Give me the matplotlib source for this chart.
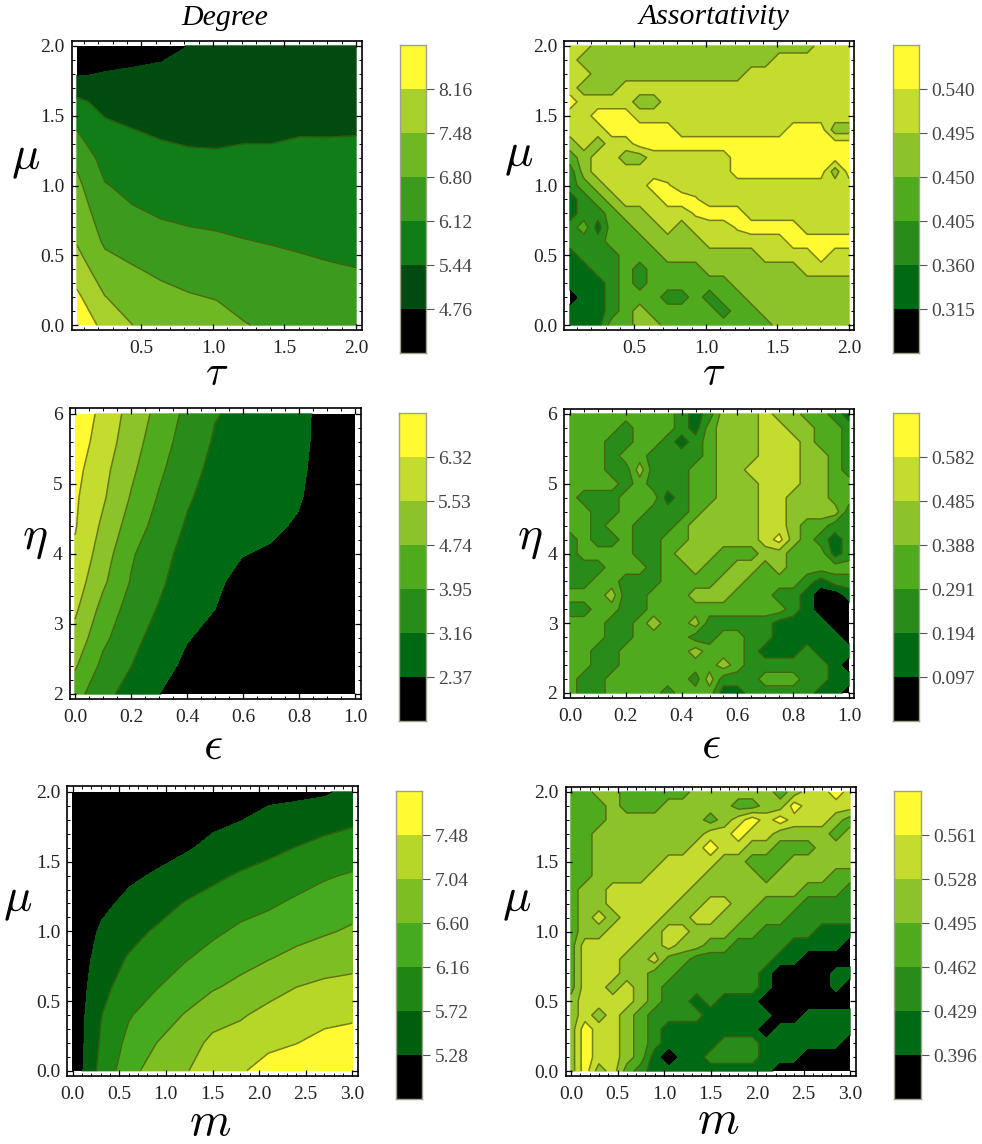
import numpy as np
import matplotlib
matplotlib.use("Agg")
import matplotlib.pyplot as plt
from matplotlib.ticker import MultipleLocator, FormatStrFormatter

plt.rcParams['font.family'] = ['Liberation Serif', 'DejaVu Serif']
plt.rcParams['mathtext.fontset'] = 'cm'

W, H = 982, 1144

# panel values, rows run from the top of each plot downwards
degree_tau = [
    [4.30, 4.40, 4.50, 4.60, 4.78, 4.80, 4.85, 4.90, 4.95, 4.95, 4.95],
    [4.72, 4.81, 4.86, 4.90, 4.95, 4.98, 5.00, 5.00, 5.05, 5.08, 5.08],
    [5.58, 5.24, 5.15, 5.12, 5.13, 5.14, 5.17, 5.17, 5.23, 5.25, 5.25],
    [6.11, 5.59, 5.45, 5.35, 5.31, 5.31, 5.34, 5.35, 5.40, 5.40, 5.41],
    [6.65, 5.85, 5.70, 5.60, 5.52, 5.50, 5.54, 5.53, 5.56, 5.55, 5.55],
    [6.96, 6.16, 5.94, 5.83, 5.76, 5.74, 5.73, 5.72, 5.72, 5.70, 5.68],
    [7.19, 6.44, 6.20, 6.07, 6.00, 5.95, 5.93, 5.91, 5.89, 5.85, 5.82],
    [7.42, 6.70, 6.53, 6.33, 6.26, 6.22, 6.14, 6.09, 6.05, 6.00, 5.97],
    [7.83, 7.07, 6.85, 6.68, 6.56, 6.50, 6.36, 6.30, 6.22, 6.17, 6.13],
    [8.29, 7.50, 7.16, 6.98, 6.85, 6.77, 6.60, 6.50, 6.40, 6.33, 6.28],
    [8.80, 7.90, 7.48, 7.25, 7.15, 7.05, 6.83, 6.70, 6.60, 6.50, 6.42],
]
degree_eps = [
    [6.90, 6.09, 5.25, 4.50, 3.75, 3.20, 3.00, 2.90, 2.70, 2.00, 1.80],
    [6.74, 5.96, 5.10, 4.30, 3.60, 3.08, 2.90, 2.80, 2.65, 2.00, 1.80],
    [6.56, 5.76, 4.90, 4.10, 3.42, 2.96, 2.80, 2.72, 2.55, 2.00, 1.80],
    [6.43, 5.63, 4.68, 3.88, 3.25, 2.84, 2.70, 2.60, 2.45, 2.00, 1.80],
    [6.38, 5.38, 4.40, 3.65, 3.08, 2.72, 2.60, 2.50, 2.30, 1.90, 1.70],
    [6.20, 5.14, 4.05, 3.42, 2.92, 2.60, 2.40, 2.30, 1.90, 1.80, 1.70],
    [5.95, 4.88, 3.90, 3.30, 2.75, 2.49, 2.20, 2.00, 1.80, 1.70, 1.70],
    [5.66, 4.47, 3.62, 3.10, 2.58, 2.38, 2.10, 1.90, 1.70, 1.70, 1.60],
    [5.27, 4.13, 3.41, 2.85, 2.42, 2.20, 2.00, 1.80, 1.60, 1.60, 1.60],
    [4.83, 3.75, 3.17, 2.63, 2.25, 2.05, 1.90, 1.70, 1.60, 1.60, 1.60],
    [4.27, 3.37, 2.90, 2.39, 2.10, 1.90, 1.80, 1.70, 1.50, 1.50, 1.60],
]
degree_m = [
    [5.00, 4.60, 4.85, 4.90, 5.00, 5.10, 5.15, 5.20, 5.20, 5.24, 5.40],
    [5.00, 4.75, 4.95, 5.00, 5.10, 5.20, 5.28, 5.38, 5.47, 5.55, 5.64],
    [5.00, 4.90, 5.10, 5.15, 5.24, 5.39, 5.52, 5.62, 5.73, 5.85, 5.93],
    [5.00, 5.05, 5.22, 5.33, 5.49, 5.64, 5.76, 5.86, 5.99, 6.12, 6.20],
    [5.00, 5.20, 5.38, 5.55, 5.74, 5.86, 6.00, 6.10, 6.23, 6.33, 6.43],
    [5.00, 5.34, 5.58, 5.77, 5.93, 6.08, 6.24, 6.34, 6.46, 6.55, 6.66],
    [5.00, 5.46, 5.76, 5.96, 6.13, 6.32, 6.47, 6.59, 6.72, 6.86, 6.91],
    [5.00, 5.58, 5.93, 6.14, 6.37, 6.56, 6.70, 6.90, 7.04, 7.12, 7.16],
    [5.00, 5.70, 6.12, 6.38, 6.62, 6.85, 7.00, 7.15, 7.25, 7.36, 7.41],
    [5.00, 5.76, 6.28, 6.60, 6.80, 7.15, 7.20, 7.38, 7.47, 7.60, 7.65],
    [5.00, 5.85, 6.42, 6.85, 7.00, 7.25, 7.43, 7.65, 7.75, 7.90, 7.90],
]
assort_tau = [
    [.52, .52, .47, .47, .47, .47, .47, .47, .47, .47, .47, .47, .47, .47, .47, .47, .47, .47, .52, .52, .52],
    [.52, .47, .47, .47, .47, .47, .47, .47, .47, .47, .47, .47, .47, .47, .47, .52, .52, .52, .52, .52, .52],
    [.52, .52, .47, .47, .47, .47, .47, .47, .47, .47, .47, .47, .47, .52, .52, .52, .52, .52, .52, .52, .52],
    [.52, .47, .47, .47, .52, .52, .52, .52, .52, .52, .52, .52, .52, .52, .52, .52, .52, .52, .52, .52, .52],
    [.56, .52, .52, .52, .52, .47, .47, .52, .52, .52, .52, .52, .52, .52, .52, .52, .52, .52, .52, .52, .52],
    [.52, .52, .56, .56, .56, .52, .52, .52, .52, .52, .52, .52, .52, .52, .52, .52, .52, .52, .52, .52, .52],
    [.52, .52, .52, .56, .56, .56, .56, .56, .52, .52, .52, .52, .52, .52, .52, .52, .56, .56, .56, .47, .47],
    [.47, .52, .47, .52, .52, .56, .56, .56, .56, .56, .56, .56, .56, .56, .56, .56, .56, .56, .56, .56, .56],
    [.43, .47, .52, .52, .47, .47, .52, .52, .52, .52, .52, .52, .56, .56, .56, .56, .56, .56, .56, .56, .56],
    [.38, .47, .52, .52, .52, .52, .52, .52, .52, .52, .52, .52, .56, .56, .56, .56, .56, .56, .56, .47, .56],
    [.38, .43, .47, .52, .52, .52, .56, .545, .52, .52, .52, .52, .52, .52, .52, .52, .52, .52, .52, .52, .52],
    [.34, .38, .43, .47, .52, .52, .52, .56, .56, .545, .52, .52, .52, .52, .52, .52, .52, .52, .52, .52, .52],
    [.34, .38, .38, .43, .47, .47, .52, .52, .52, .545, .56, .56, .56, .52, .52, .52, .52, .52, .52, .52, .52],
    [.38, .43, .34, .43, .43, .47, .47, .52, .47, .52, .52, .52, .545, .56, .56, .56, .56, .52, .52, .52, .52],
    [.38, .38, .38, .43, .43, .43, .47, .47, .47, .47, .52, .52, .52, .52, .52, .52, .56, .56, .56, .56, .56],
    [.34, .38, .38, .38, .43, .43, .43, .47, .47, .47, .47, .47, .47, .47, .52, .52, .52, .52, .56, .52, .52],
    [.34, .34, .38, .38, .43, .38, .43, .43, .43, .43, .47, .47, .47, .47, .47, .47, .47, .52, .52, .52, .52],
    [.34, .34, .34, .38, .43, .38, .43, .43, .43, .43, .43, .43, .47, .47, .47, .47, .47, .47, .47, .47, .47],
    [.29, .34, .34, .38, .43, .43, .43, .38, .38, .43, .38, .43, .43, .47, .47, .47, .47, .47, .47, .47, .47],
    [.34, .34, .34, .38, .43, .47, .43, .43, .43, .43, .43, .38, .43, .43, .47, .47, .47, .47, .47, .47, .47],
    [.34, .34, .34, .43, .43, .47, .47, .43, .43, .43, .43, .43, .43, .43, .43, .47, .47, .47, .47, .47, .47],
]
assort_eps = [
    [.34, .34, .34, .34, .34, .34, .34, .34, .24, .15, .24, .44, .44, .44, .53, .44, .44, .34, .34, .24, .15],
    [.34, .34, .34, .34, .24, .34, .34, .34, .24, .15, .34, .44, .44, .44, .53, .53, .44, .44, .34, .34, .24],
    [.34, .34, .34, .24, .24, .34, .34, .24, .15, .24, .34, .44, .44, .44, .53, .53, .53, .44, .34, .34, .24],
    [.34, .34, .34, .24, .34, .34, .24, .24, .24, .24, .34, .44, .44, .44, .53, .53, .53, .44, .44, .34, .24],
    [.34, .34, .34, .24, .24, .44, .24, .24, .24, .34, .34, .44, .44, .53, .53, .53, .53, .44, .44, .34, .24],
    [.34, .34, .34, .34, .24, .34, .24, .24, .24, .34, .34, .44, .44, .44, .53, .53, .53, .44, .44, .34, .34],
    [.34, .24, .24, .24, .34, .34, .34, .15, .24, .34, .34, .44, .44, .44, .53, .53, .44, .44, .44, .34, .34],
    [.34, .34, .24, .24, .34, .34, .24, .24, .24, .34, .44, .44, .44, .44, .53, .53, .44, .44, .44, .44, .24],
    [.34, .34, .24, .34, .34, .24, .24, .24, .34, .44, .44, .44, .44, .44, .53, .53, .44, .34, .34, .24, .24],
    [.24, .34, .24, .24, .34, .24, .24, .34, .34, .44, .44, .44, .44, .44, .53, .62, .44, .34, .24, .15, .24],
    [.24, .34, .34, .34, .34, .24, .24, .34, .44, .44, .44, .34, .34, .34, .44, .44, .34, .34, .34, .15, .24],
    [.24, .24, .24, .34, .34, .34, .24, .34, .34, .44, .34, .34, .44, .44, .34, .44, .34, .34, .34, .34, .34],
    [.24, .24, .34, .34, .24, .24, .24, .34, .34, .34, .34, .44, .44, .34, .34, .34, .34, .24, .15, .24, .24],
    [.34, .34, .34, .44, .24, .24, .34, .34, .34, .44, .44, .44, .34, .34, .34, .24, .24, .15, .05, .05, .15],
    [.24, .24, .34, .34, .24, .24, .34, .34, .34, .34, .34, .34, .34, .34, .34, .34, .24, .15, .05, .05, .05],
    [.34, .34, .34, .24, .24, .34, .44, .34, .34, .44, .24, .24, .24, .24, .24, .15, .15, .15, .15, .05, .05],
    [.34, .34, .34, .24, .24, .34, .34, .34, .34, .24, .24, .34, .34, .24, .24, .15, .15, .15, .15, .15, .05],
    [.34, .34, .24, .24, .34, .34, .34, .34, .34, .44, .34, .34, .34, .24, .15, .15, .15, .24, .15, .15, .15],
    [.34, .34, .24, .24, .34, .34, .34, .34, .34, .34, .34, .44, .34, .24, .24, .24, .24, .24, .24, .15, .05],
    [.34, .24, .24, .34, .34, .34, .34, .34, .34, .24, .44, .24, .24, .24, .34, .34, .34, .24, .24, .15, .15],
    [.34, .24, .24, .34, .34, .34, .34, .24, .34, .34, .34, .15, .15, .24, .24, .24, .24, .24, .15, .15, .05],
]
assort_m = [
    [.48, .48, .51, .51, .48, .48, .48, .48, .48, .51, .51, .51, .51, .51, .51, .48, .51, .545, .545, .58, .545],
    [.48, .48, .48, .51, .48, .48, .48, .51, .51, .51, .51, .51, .48, .48, .51, .51, .58, .545, .545, .545, .545],
    [.48, .48, .48, .51, .51, .51, .51, .51, .51, .51, .48, .51, .545, .58, .545, .58, .545, .545, .545, .51, .48],
    [.48, .48, .51, .51, .51, .51, .51, .51, .51, .51, .545, .545, .58, .545, .545, .51, .51, .51, .51, .48, .51],
    [.48, .48, .51, .51, .51, .51, .51, .51, .51, .545, .58, .545, .545, .51, .51, .48, .48, .48, .51, .51, .51],
    [.48, .48, .51, .51, .51, .51, .51, .545, .545, .545, .545, .51, .51, .48, .48, .48, .51, .51, .51, .51, .51],
    [.48, .48, .51, .51, .51, .51, .545, .545, .545, .545, .51, .51, .51, .51, .48, .51, .51, .51, .51, .48, .48],
    [.48, .51, .51, .545, .545, .545, .545, .545, .545, .51, .51, .51, .51, .51, .51, .51, .51, .48, .48, .48, .445],
    [.48, .51, .51, .545, .545, .545, .545, .545, .51, .51, .545, .545, .51, .51, .48, .48, .48, .445, .445, .445, .445],
    [.48, .51, .545, .51, .545, .545, .545, .51, .51, .545, .545, .51, .51, .48, .48, .48, .445, .445, .445, .445, .445],
    [.48, .51, .51, .545, .545, .545, .51, .545, .545, .51, .51, .51, .48, .48, .445, .445, .445, .445, .41, .41, .41],
    [.48, .545, .545, .545, .545, .51, .51, .545, .51, .51, .48, .48, .445, .445, .445, .445, .41, .41, .41, .41, .38],
    [.48, .545, .545, .545, .51, .51, .545, .48, .48, .445, .445, .445, .445, .445, .445, .41, .41, .38, .38, .38, .38],
    [.48, .545, .545, .545, .51, .51, .48, .48, .445, .445, .445, .445, .445, .445, .41, .38, .38, .38, .38, .41, .41],
    [.48, .545, .545, .51, .545, .51, .48, .445, .445, .445, .445, .445, .445, .445, .41, .38, .38, .38, .38, .41, .38],
    [.51, .545, .545, .545, .545, .51, .48, .445, .445, .41, .445, .41, .41, .41, .38, .38, .38, .38, .38, .38, .38],
    [.51, .545, .51, .545, .51, .48, .445, .445, .445, .445, .41, .41, .41, .41, .41, .38, .38, .41, .41, .41, .41],
    [.51, .58, .545, .545, .51, .48, .445, .41, .41, .41, .41, .41, .41, .41, .38, .41, .41, .41, .41, .41, .41],
    [.51, .58, .545, .545, .51, .48, .445, .41, .41, .41, .41, .445, .445, .445, .41, .41, .41, .41, .41, .41, .38],
    [.51, .58, .545, .545, .51, .48, .41, .38, .41, .41, .445, .445, .445, .445, .41, .41, .41, .38, .38, .38, .38],
    [.51, .58, .51, .545, .48, .445, .41, .41, .41, .41, .41, .41, .41, .41, .41, .38, .38, .38, .38, .38, .38],
]

levels_deg_tau = [4.76, 5.44, 6.12, 6.80, 7.48, 8.16]
levels_ass_tau = [0.315, 0.360, 0.405, 0.450, 0.495, 0.540]
levels_deg_eps = [2.37, 3.16, 3.95, 4.74, 5.53, 6.32]
levels_ass_eps = [0.097, 0.194, 0.291, 0.388, 0.485, 0.582]
levels_deg_m = [5.28, 5.72, 6.16, 6.60, 7.04, 7.48]
levels_ass_m = [0.396, 0.429, 0.462, 0.495, 0.528, 0.561]

# band colours, dark to light
bands_a = ['#000000', '#004b0f', '#117d16', '#3c9b1e', '#6eb923', '#a8d02d', '#fffa32']
bands_b = ['#000000', '#006914', '#288c19', '#50aa1e', '#8cc328', '#c3dc2d', '#fffa32']
bands_c = ['#000000', '#005f0f', '#1e8714', '#46aa1e', '#7dbe23', '#b4d728', '#fffa32']

LINE = '#3c4a0a'


def box(x0, y0, x1, y1):
    return [x0 / W, 1 - y1 / H, (x1 - x0) / W, (y1 - y0) / H]


def draw_panel(frame, data_px, cbar, zz, xr, yr, levels, colors, xmaj, xmin, ymaj, ymin, yfmt):
    ax = fig.add_axes(box(*frame))
    zz = np.array(zz)
    xs = np.linspace(xr[0], xr[1], zz.shape[1])
    ys = np.linspace(yr[1], yr[0], zz.shape[0])
    ax.contourf(xs, ys, zz, levels=levels, colors=colors[1:-1], extend='neither',
                antialiased=True).set_edgecolor('face')
    ax.contourf(xs, ys, zz, levels=[-100, levels[0]], colors=[colors[0]])
    ax.contourf(xs, ys, zz, levels=[levels[-1], 100], colors=[colors[-1]])
    ax.contour(xs, ys, zz, levels=levels[1:], colors=LINE, linewidths=1.1, alpha=0.7)

    # white margin between frame and field
    sx = (xr[1] - xr[0]) / (data_px[2] - data_px[0])
    sy = (yr[1] - yr[0]) / (data_px[3] - data_px[1])
    ax.set_xlim(xr[0] - (data_px[0] - frame[0]) * sx, xr[1] + (frame[2] - data_px[2]) * sx)
    ax.set_ylim(yr[0] - (frame[3] - data_px[3]) * sy, yr[1] + (data_px[1] - frame[1]) * sy)

    ax.xaxis.set_major_locator(MultipleLocator(xmaj))
    ax.xaxis.set_minor_locator(MultipleLocator(xmin))
    ax.yaxis.set_major_locator(MultipleLocator(ymaj))
    ax.yaxis.set_minor_locator(MultipleLocator(ymin))
    ax.xaxis.set_major_formatter(FormatStrFormatter('%.1f'))
    ax.yaxis.set_major_formatter(FormatStrFormatter(yfmt))
    ax.tick_params(which='major', direction='in', top=True, right=True, length=4.2, width=0.9,
                   labelsize=14, labelcolor='#222222')
    ax.tick_params(axis='x', which='major', pad=7)
    ax.tick_params(axis='y', which='major', pad=5)
    ax.tick_params(which='minor', direction='in', top=True, right=True, length=2.2, width=0.7)
    for s in ax.spines.values():
        s.set_linewidth(1.2)

    # colour key with equal bands
    cax = fig.add_axes(box(*cbar))
    for i, c in enumerate(colors):
        cax.bar(0.5, 1, width=1, bottom=i, color=c, linewidth=0)
    cax.set_xlim(0, 1)
    cax.set_ylim(0, 7)
    cax.set_xticks([])
    cax.set_yticks(range(1, 7))
    fmt = '%.2f' if levels[-1] > 1 else '%.3f'
    cax.set_yticklabels([fmt % v for v in levels])
    cax.yaxis.tick_right()
    cax.tick_params(axis='y', length=6, width=0.8, color='#555555', labelsize=14,
                    labelcolor='#444444', pad=3)
    for s in cax.spines.values():
        s.set_color('#a0a08c')
        s.set_linewidth(1.0)


def label(x, y, txt, size=34):
    fig.text(x / W, 1 - y / H, txt, fontsize=size, ha='center', va='center')


fig = plt.figure(figsize=(W / 100, H / 100), dpi=100, facecolor='white')

draw_panel((71.7, 40.7, 361.7, 330), (77, 46, 356, 325), (400, 45, 426, 353), degree_tau,
           (0.05, 2.0), (0, 2), levels_deg_tau, bands_a, .5, .1, .5, .1, '%.1f')
draw_panel((564.3, 40.7, 854.3, 330), (570, 46, 849, 325), (893, 45, 919, 353), assort_tau,
           (0.05, 2.0), (0, 2), levels_ass_tau, bands_b, .5, .1, .5, .1, '%.1f')
draw_panel((69.7, 408.3, 360.7, 699.3), (75, 414, 355, 694), (399, 413.3, 425.7, 721), degree_eps,
           (0, 1), (2, 6), levels_deg_eps, bands_b, .2, .05, 1, .2, '%d')
draw_panel((564.3, 409, 854.3, 698), (570, 414, 849, 693), (893, 413, 919, 721), assort_eps,
           (0, 1), (2, 6), levels_ass_eps, bands_b, .2, .05, 1, .2, '%d')
draw_panel((67.3, 786.3, 357.7, 1076.3), (72.7, 792, 352.3, 1070.7), (396.3, 791.3, 422.3, 1099), degree_m,
           (0, 3), (0, 2), levels_deg_m, bands_c, .5, .1, .5, .1, '%.1f')
draw_panel((565.7, 786.7, 855.7, 1076), (571, 792, 850, 1071), (894, 791, 920.6, 1099), assort_m,
           (0, 3), (0, 2), levels_ass_m, bands_b, .5, .1, .5, .1, '%.1f')

fig.text(225 / W, 1 - 18 / H, 'Degree', fontsize=21.5, style='italic', ha='center', va='center')
fig.text(714 / W, 1 - 17 / H, 'Assortativity', fontsize=21.5, style='italic', ha='center', va='center')

label(217, 375, r'$\tau$', size=30)
label(714, 375, r'$\tau$', size=30)
label(26, 160, r'$\mu$')
label(519, 157, r'$\mu$')
label(35, 540, r'$\eta$')
label(530, 540, r'$\eta$')
label(213, 748, r'$\epsilon$')
label(711, 747, r'$\epsilon$')
label(18, 902, r'$\mu$')
label(517, 902, r'$\mu$')
label(210, 1124, r'$m$')
label(718, 1122, r'$m$')

fig.savefig('out.png', dpi=100)
